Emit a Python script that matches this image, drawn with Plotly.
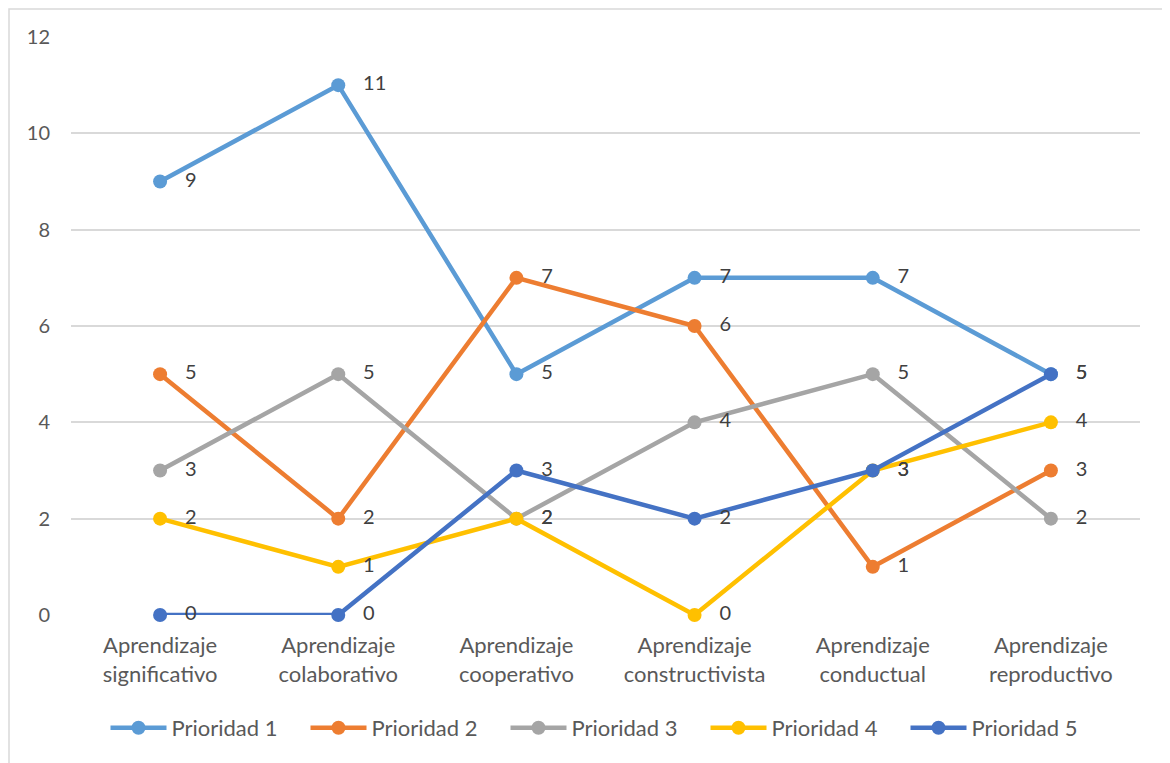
import plotly.graph_objects as go

categories = ["Aprendizaje<br>significativo", "Aprendizaje<br>colaborativo", "Aprendizaje<br>cooperativo",
              "Aprendizaje<br>constructivista", "Aprendizaje<br>conductual", "Aprendizaje<br>reproductivo"]
series_names = ["Prioridad 1", "Prioridad 2", "Prioridad 3", "Prioridad 4", "Prioridad 5"]
p1 = [9, 11, 5, 7, 7, 5]
p2 = [5, 2, 7, 6, 1, 3]
p3 = [3, 5, 2, 4, 5, 2]
p4 = [2, 1, 2, 0, 3, 4]
p5 = [0, 0, 3, 2, 3, 5]
colors = ["#5B9BD5", "#ED7D31", "#A5A5A5", "#FFC000", "#4472C4"]
y_ticks = [0, 2, 4, 6, 8, 10, 12]

FONT = "Lato"
TXT = "#595959"

fig = go.Figure()
for name, vals, col in zip(series_names, [p1, p2, p3, p4, p5], colors):
    fig.add_trace(go.Scatter(
        x=list(range(len(categories))), y=vals, name=name,
        mode="lines+markers+text",
        line=dict(color=col, width=4.5),
        marker=dict(color=col, size=14),
        text=["\u2002 " + str(v) for v in vals],
        textposition="middle right",
        textfont=dict(family=FONT, size=20, color="#404040"),
        cliponaxis=False,
    ))

# page body has an 8px offset, so the figure starts at (8, 8) in the window
OFF = 8
W, H = 1170 - OFF, 763 - OFF
ml, mr, mt, mb = 71 - OFF, 30, 37 - OFF, 148
pw, ph = W - ml - mr, H - mt - mb

def px_x(p):
    return (p - OFF - ml) / pw

def px_y(p):
    return (OFF + H - mb - p) / ph

fig.update_layout(
    width=W, height=H,
    margin=dict(l=ml, r=mr, t=mt, b=mb),
    plot_bgcolor="white", paper_bgcolor="white",
    font=dict(family=FONT, size=22, color=TXT),
    showlegend=True,
    legend=dict(orientation="h", x=0.50, xanchor="center", y=px_y(728), yanchor="middle",
                font=dict(family=FONT, size=22, color=TXT), itemwidth=56,
                entrywidth=129, entrywidthmode="pixels",
                traceorder="normal"),
    xaxis=dict(range=[-0.5, 5.5], tickmode="array", tickvals=list(range(len(categories))),
               ticktext=categories, showgrid=False, zeroline=False, showline=False,
               ticks="", ticklabelstandoff=15, tickfont=dict(family=FONT, size=22, color=TXT)),
    yaxis=dict(range=[0, 12], tickmode="array", tickvals=y_ticks, ticktext=[str(t) for t in y_ticks],
               showgrid=True, gridcolor="#D9D9D9", gridwidth=1.5, zeroline=False, showline=False,
               ticks="", ticklabelstandoff=20, tickfont=dict(family=FONT, size=20, color=TXT)),
    shapes=[dict(type="rect", xref="paper", yref="paper",
                 x0=px_x(9), x1=px_x(1166), y0=px_y(780), y1=px_y(9),
                 line=dict(color="#D9D9D9", width=1.5), fillcolor="rgba(0,0,0,0)", layer="below")],
)

fig.write_html("out.html")
